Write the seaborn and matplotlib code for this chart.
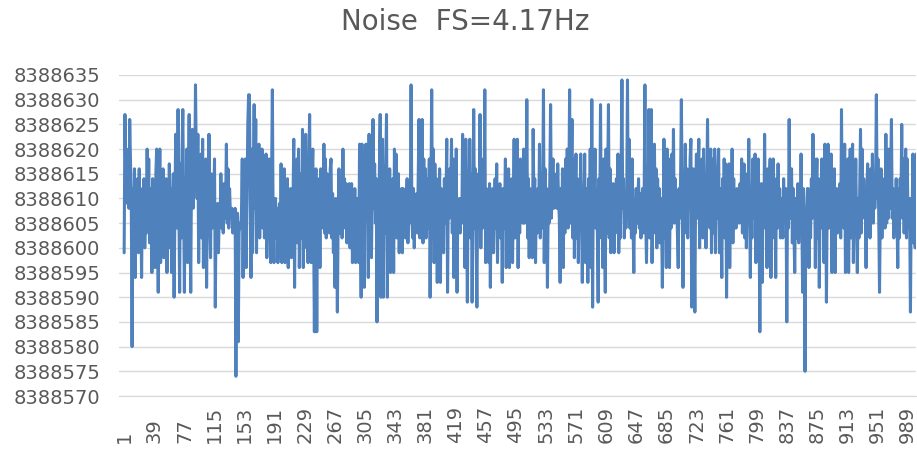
import numpy as np
import pandas as pd
import seaborn as sns
import matplotlib.pyplot as plt

# --- data (offsets from 8388600) ---
BASE = 8388600

seg_01 = [-1, 27, 14, 20, 9, 12, 8, 26, 18, 9, -20,
          12, 3, 16, -6, 10, 2, 14, -1, 16, 4, 9, -6, 12, 6, 14, 0, 8, 3,
          20, 5, 18, 1, 12,
          8, -5, 14, 3, 10, -4, 15,
          20, 2, -9, 6, 20,
          -3, 12, 4, 16, -2, 10, 5, 14, -5, 9, 3,
          17, 0, 12, -5, 8, 15,
          -10, 6, 23, 12,
          4, 28, 10, -9, 17, 2, 19]
seg_02 = [28, 10, -9, 14, 4, 20, -3, 12,
          27, 6, -9, 16, 24,
          8, 20, 12, 33, 18, 10,
          23, -3, 14, 5, 19, 2,
          22, -4, 12, 6,
          18, -8, 10, 3,
          23, 6, -2, 15, 4, 11, 9,
          18, -12,
          8, 3, 9, -1, 7, 5,
          15, 4, 11, 3, 13, 6, 9,
          21, 5, 16, 4, 12, 7,
          6, 8, 3, 7, 5, 8,
          -26, 6, 7, -19, 3, 5,
          4, 7,
          18, -6, 12, 2, 18, -4, 10,
          25, 31]
seg_03 = [31, 12, -6, 20, -1, 14,
          29, 8, 26, -1, 15, 5,
          21, 2, 17, 9, 20, 4, 12, 2, 16,
          19, -2, 10, 3, 18, 6,
          -3, 14, 32, 4, -3, 9,
          10, 2, 8, -3, 6, 9, -2,
          17, -3, 12, 5, 16, -3, 8, 4,
          14, -4, 10, 3, 12, -2, 6, 9,
          22, -8, 12, 3, 18,
          1, 20, -4, 8, 15, 2,
          24, -4, 16, 6, 23, 0,
          13, -3, 18, 27, 5, -3, 14,
          20, 4, -17, 8, 16]
seg_04 = [-17, 12, 3, 14,
          -4, 16, 6, 10,
          4, 21, 3, 18,
          2, 15, 5, 12, 3,
          16, 18, 2, 11,
          -1, 8, -8, 10, 4, -13,
          6, 16, 3, 14, 8, 2,
          20, 5, 14, 4,
          13, 1, 9, 6, 13, 0, 10,
          13, -3, 8, 2, 12, -3, 6, 10, 4,
          -3, 21, 5, -10,
          21, 2, 19, -8, 14, 21, 6, 18,
          -6, 23, 4, 17, -2,
          12, 26, 8, 17, 5, 14,
          -15, 10, 2, 16,
          27, -10, 14, 22]
seg_05 = [-10, 14, 3, 16,
          27, -10, 12, 4,
          16, -5, 9, 2, 14,
          -5, 20, 4, 19, 2, 12,
          15, -1, 10, 3, 12,
          -1, 12, 6, 11, 2, 9,
          14, 1, 10, 5, 8,
          33, 6, 2, 12,
          0, 9, 4, 11, 3,
          15, 26, 2, 24, 8, 26,
          1, 18, 5, 16, 2, 14, 4, 10, 18,
          -10, 12, 32, 4, 20, -3,
          17, 2, 14, -7, 10, 4, 16,
          -7, 12, 3, 10, -1, 14, 5, 9,
          22, -9, 12, 6, 16]
seg_06 = [12, 22, 3, 18, -6, 14, 6,
          20, -9, 9, 4,
          10, 3, 8, 5,
          23, 6, 19, -4, 22, 10, -11, 14, 8,
          22, 2, 15, -11, 8,
          28, 4, 16, 2,
          -12, 10, 15, 6,
          27, 0, 18, 4, 12, 8,
          32, -3, 12, 5, 9, -3,
          13, -8, 10, 3, 12, -1, 8,
          14, 4, 17, -3, 10, 6, 13, 2,
          9, -7, 12, 4, 8,
          18, -4, 12, 3, 16, -4, 10, 6,
          14, -3, 10, 22, 2, 17, 8]
seg_07 = [22, -4, 14, 3, 18, 8,
          16, 5, 20, 5, 12,
          6, 30, 2, 14,
          -2, 12, 4, 10, -2,
          24, 8, 14,
          -3, 10, 3, 12, 7,
          21, 2, 15, 4, 10,
          32, -3, 16, 6, 12,
          -8, 9, 5, 14,
          29, 6, 12,
          18, 8, 15, 9, 12, 8, 17, 10, 6,
          -7, 12, 2, 16,
          -4, 14, 3, 18, 6,
          20, 4, 12,
          32, 5, 14, 26,
          2, 18, -2, 10,
          19, 2, 14, -3, 12, 4, 19, 8,
          -7, 12, 6]
seg_08 = [19, -3, 12, 4,
          -7, 14, 2,
          20, -4, 30, -12, 16,
          8, 20, 4, 12, 3,
          -11, 14, 6,
          29, 2, 12, -4,
          18, 6, -9, 20, 3, 14,
          29, 2, 16, -1, 12,
          4, 13, -1, 10, 3, 14, 5,
          19, -1, 12, 2, 16,
          34, 8, 14, 2,
          11, 4, 9, 34, 6,
          22, 4, 15, 2, 18, 5,
          -5, 10, 3, 12, 5, 9,
          14, 4, 11, 2, 8, 12, 3,
          10, 33, 6, -3, 12,
          4, 28, 2, 10]
seg_09 = [28, -3, 14, 6,
          21, 3, 16, 0,
          14, 4, 12, 1, 10, 6,
          -8, 8,
          22, 2, 16, -4, 20, 6,
          18, -4, 12, 4, 19, 8,
          24, 5, 14, 8,
          10, 3, -4, 12, 6, 14,
          30, 10,
          -8, 12, 4,
          21, 3, 16, 2, 14, 8, 18,
          22, -12, 10, 16,
          4, -13, 12, 19, 6, 14,
          22, 0, 16, 5, 18, 2,
          20, 6, 14, 0, 12, 26,
          8, 15, 4, 20, -1, 12,
          18, 3, 20, -1, 14, 6, 16]
seg_10 = [20, -1, 12, 6,
          -6, 14, 4,
          18, 2, 17, -10, 8, 14,
          17, -4, 12, 3,
          20, 1, 14, 4, 10,
          4, 12, 6, 10, 5, 13, 6,
          18, 3, 12,
          17, 2, 15, 0, 12, 5, 22, 9,
          -6, 12, 2, 18, 6, 14,
          19, -3, 12, 4, 18, 6,
          -17, 12, 13, -7, 10, 4,
          23, 6, 14, -4, 16, 2,
          12, 18, -6, 14, 2, 18, 8, 11,
          -6, 14, 4, 17, 6, 12, 2, 10,
          8, 2, 14, 5, 12]
seg_11 = [10, -15, 12, 4,
          26, 6, 14,
          16, 1, 12, 3,
          -5, 10, 2, 8,
          13, 1, 10, 5,
          19, 4, -9, 12, 6,
          -25, 8, 3, 12,
          12, -4, 10, 2, 14, 6, 23,
          8, 18, -4, 12, 18, 2, 14,
          -8, 10, 4, 18, 6, 12, -3, 21,
          16, -11, 10, 21, 4, 16, 8,
          19, -5, 12, 2, 16, -5, 10,
          12, 3, 10, 6, 13, 2,
          28, 6, 14, 4,
          21, -5, 12, 3, 18, -5, 10, 20, 2, 14]
seg_12 = [21, -3, 14, 6, 18,
          4, -5, 10, 2,
          12, 24, 3, 20, 8,
          14, 6, 10, -4, 12,
          17, 3, 12, 2, 16, 6,
          19, 5, 14, 8, 12,
          31, 10, 18, 6,
          -9, 8, 16, 2, 12,
          6, 14, 4, 23, 5, 18,
          6, 20, 8, 14,
          26, 6, 12, 2,
          10, 4, 14, 6,
          -4, 12, 2, 14, 8,
          25, 6, 18, 3, 12,
          20, 2, 18, 4, 10,
          6, -13, 10, 4,
          19, 1, 16, 0, 19]

y_ticks = list(range(8388570, 8388640, 5))
x_tick_labels = list(range(1, 990, 38))
title = "Noise  FS=4.17Hz"

offsets = (seg_01 + seg_02 + seg_03 + seg_04 + seg_05 + seg_06
           + seg_07 + seg_08 + seg_09 + seg_10 + seg_11 + seg_12)
df = pd.DataFrame({"sample": np.arange(1, len(offsets) + 1),
                   "value": BASE + np.array(offsets)})

# --- plot ---
sns.set_style("white")
plt.rcParams["font.family"] = ["DejaVu Sans"]
grey = "#595959"

fig = plt.figure(figsize=(9.17, 4.67), dpi=100)
ax = fig.add_axes([119 / 917, 71 / 467, 797 / 917, 321 / 467])

sns.lineplot(data=df, x="sample", y="value", ax=ax,
             color="#4f81bd", linewidth=2.2)

ax.set_xlim(-5.5, 1000)
ax.set_ylim(y_ticks[0], y_ticks[-1])
ax.set_yticks(y_ticks)
ax.set_yticklabels([str(v) for v in y_ticks])
ax.set_xticks(x_tick_labels)
ax.set_xticklabels([str(v) for v in x_tick_labels], rotation=90, va="bottom")

ax.grid(axis="y", color="#d9d9d9", linewidth=1)
ax.set_axisbelow(True)
for side in ["top", "right", "left"]:
    ax.spines[side].set_visible(False)
ax.spines["bottom"].set_color("#d9d9d9")
ax.tick_params(axis="y", length=0, pad=13.5, labelsize=14, labelcolor=grey)
ax.tick_params(axis="x", length=0, pad=34, labelsize=14, labelcolor=grey)
ax.set_xlabel("")
ax.set_ylabel("")

fig.text(465 / 917, 1 - 22 / 467, title, ha="center", va="center",
         fontsize=20, color=grey)

plt.savefig("out.png", dpi=100)
plt.close()
